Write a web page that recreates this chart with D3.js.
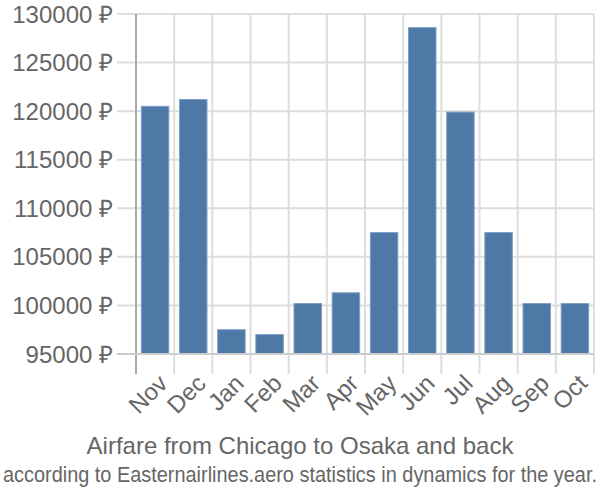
<!DOCTYPE html>
<html><head><meta charset="utf-8">
<script src="https://cdn.jsdelivr.net/npm/d3@7"></script>
<style>body{margin:0;background:#fff;} text{font-family:"Liberation Sans",Arial,sans-serif;fill:#666;}</style>
</head><body>
<svg id="c" width="600" height="500"></svg>
<script>
const months = ["Nov","Dec","Jan","Feb","Mar","Apr","May","Jun","Jul","Aug","Sep","Oct"];
const prices = [120500,121200,97500,97000,100200,101300,107500,128600,119900,107500,100200,100200];
const yTicks = [95000,100000,105000,110000,115000,120000,125000,130000];
const title = "Airfare from Chicago to Osaka and back";
const subtitle = "according to Easternairlines.aero statistics in dynamics for the year.";

(function(){
const svg = d3.select("#c");
const pL = 136, pR = 594, pT = 14, pB = 354;
const x = d3.scaleBand().domain(months).range([pL, pR]);
const y = d3.scaleLinear().domain([95000,130000]).range([pB, pT]);

svg.append("g").selectAll("line").data(yTicks).join("line")
  .attr("x1", pL-19).attr("x2", pR).attr("y1", d=>y(d)).attr("y2", d=>y(d))
  .attr("stroke","#ddd").attr("stroke-width",2);
const bounds = months.map(m=>x(m)).concat([pR]);
svg.append("g").selectAll("line").data(bounds).join("line")
  .attr("x1", d=>d).attr("x2", d=>d).attr("y1", pT).attr("y2", pB+20)
  .attr("stroke","#ddd").attr("stroke-width",2);

const bw = x.bandwidth()*0.72;
svg.append("g").selectAll("rect").data(months).join("rect")
  .attr("x", d=>x(d)+(x.bandwidth()-bw)/2)
  .attr("width", bw)
  .attr("y", (d,i)=>y(prices[i]))
  .attr("height", (d,i)=>pB - y(prices[i]))
  .attr("fill","#4e79a7").attr("stroke","#7f9fc4").attr("stroke-width",1);

svg.append("line").attr("x1",pL).attr("x2",pL).attr("y1",pT).attr("y2",pB+20)
  .attr("stroke","#aaa").attr("stroke-width",2);
svg.append("line").attr("x1",pL-19).attr("x2",pR).attr("y1",pB).attr("y2",pB)
  .attr("stroke","#ccc").attr("stroke-width",2);

svg.append("g").selectAll("text").data(yTicks).join("text")
  .attr("x", 113).attr("y", d=>y(d)).attr("dy","0.36em")
  .attr("text-anchor","end").attr("font-size",24)
  .text(d=>d+" \u20BD");

svg.append("g").selectAll("text").data(months).join("text")
  .attr("transform", d=>`translate(${x(d)+x.bandwidth()/2+2},${pB+19}) rotate(-45)`)
  .attr("text-anchor","end").attr("dy","0.7em").attr("font-size",24)
  .text(d=>d);

svg.append("text").attr("x",300).attr("y",454).attr("text-anchor","middle")
  .attr("font-size",24).text(title);
svg.append("text").attr("x",300).attr("y",482).attr("text-anchor","middle")
  .attr("font-size",22).attr("textLength",594).attr("lengthAdjust","spacingAndGlyphs").text(subtitle);
})();
</script>
</body></html>
